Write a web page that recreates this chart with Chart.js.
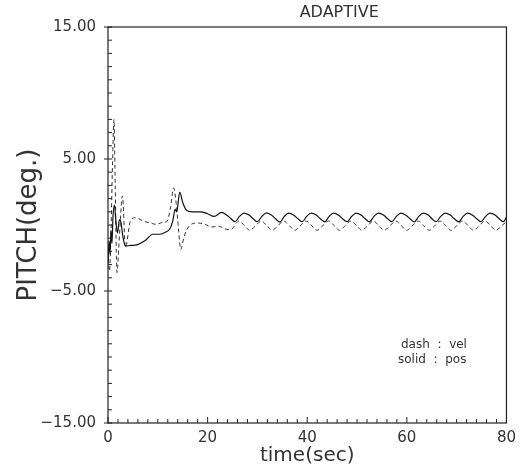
<!DOCTYPE html>
<html>
<head>
<meta charset="utf-8">
<script src="https://cdn.jsdelivr.net/npm/chart.js@4.4.0/dist/chart.umd.min.js"></script>
<style>
  html, body { margin: 0; padding: 0; background: #fff; }
</style>
</head>
<body>
<canvas id="pitch-chart" width="522" height="470"></canvas>
<script>
// values
const xTicks = [0, 20, 40, 60, 80];
const yTicks = [-15, -5, 5, 15];

// solid : pos
const posTime = [0, 0.2, 0.4, 0.6, 0.8, 1.0, 1.3, 1.6, 1.9, 2.3, 2.6, 3.0, 3.5, 4.5, 5.8, 7.4, 9.0, 10.4, 11.5, 12.4,
  13.0, 13.5, 13.8, 14.4, 15.0, 15.8, 17.0, 18.6, 20.0, 21.3, 22.8, 24.2,
  25.5, 26.4, 27.3, 28.3, 29.2, 30.0, 30.9, 31.8, 32.8, 33.7, 34.5, 35.4, 36.3, 37.3, 38.2,
  39.0, 39.9, 40.8, 41.8, 42.7, 43.5, 44.4, 45.3, 46.3, 47.2, 48.0, 48.9, 49.8, 50.8, 51.7,
  52.5, 53.4, 54.3, 55.3, 56.2, 57.0, 57.9, 58.8, 59.8, 60.7, 61.5, 62.4, 63.3, 64.3, 65.1,
  65.9, 66.8, 67.7, 68.7, 69.6, 70.4, 71.3, 72.2, 73.2, 74.1, 74.9, 75.8, 76.7, 77.7, 78.6, 79.4, 80.0];
const posPitch = [-3.0, -1.2, -2.2, -0.4, -1.4, 0.6, 1.5, 0.2, -0.6, 0.4, 0.2, -0.9, -1.6, -1.55, -1.5, -1.2, -0.7, -0.7, -0.55, -0.3,
  0.3, 1.2, 1.0, 2.5, 1.7, 1.1, 1.0, 1.0, 0.85, 0.65, 0.95, 0.65,
  0.25, 0.65, 0.9, 0.75, 0.45, 0.25, 0.65, 0.92, 0.75, 0.45, 0.22, 0.65, 0.9, 0.74, 0.45,
  0.25, 0.66, 0.9, 0.75, 0.45, 0.24, 0.65, 0.9, 0.74, 0.44, 0.25, 0.64, 0.9, 0.75, 0.45,
  0.24, 0.65, 0.9, 0.75, 0.45, 0.25, 0.65, 0.9, 0.74, 0.45, 0.24, 0.65, 0.9, 0.75, 0.45,
  0.25, 0.65, 0.9, 0.75, 0.45, 0.24, 0.65, 0.9, 0.74, 0.45, 0.25, 0.65, 0.9, 0.75, 0.45, 0.25, 0.6];

// dash : vel
const velTime = [0, 0.3, 0.6, 0.9, 1.2, 1.45, 1.8, 2.3, 2.9, 3.5, 4.5, 5.5, 7.1, 8.5, 9.7, 11.0, 11.8, 12.5, 13.2, 13.7,
  14.2, 14.6, 15.3, 16.5, 18.0, 19.5, 20.8, 22.3, 23.5, 24.6,
  26.3, 27.4, 28.5, 29.5, 30.8, 31.9, 33.0, 34.0, 35.3, 36.4, 37.5, 38.5, 39.8, 40.9, 42.0, 43.0,
  44.3, 45.4, 46.5, 47.5, 48.8, 49.9, 51.0, 52.0, 53.3, 54.4, 55.5, 56.5, 57.8, 58.9, 60.0, 61.0,
  62.3, 63.4, 64.5, 65.5, 66.7, 67.8, 68.9, 69.9, 71.2, 72.3, 73.4, 74.4, 75.7, 76.8, 77.9, 78.9, 80.0];
const velPitch = [-2.0, -3.5, -0.5, 4.5, 8.0, 3.0, -3.6, -0.8, 2.2, -1.7, 0.3, 0.55, 0.3, 0.15, 0.05, 0.2, 0.25, 1.2, 2.8, 1.6,
  -0.5, -1.85, -0.85, 0.0, 0.15, 0.05, -0.15, -0.1, -0.3, -0.35,
  0.3, -0.05, -0.4, -0.1, 0.3, -0.05, -0.4, -0.1, 0.3, -0.05, -0.4, -0.1, 0.3, -0.05, -0.4, -0.1,
  0.3, -0.05, -0.4, -0.1, 0.3, -0.05, -0.4, -0.1, 0.3, -0.05, -0.4, -0.1, 0.3, -0.05, -0.4, -0.1,
  0.3, -0.05, -0.4, -0.1, 0.3, -0.05, -0.4, -0.1, 0.3, -0.05, -0.4, -0.1, 0.3, -0.05, -0.4, -0.1, 0.25];

const fontFamily = '"DejaVu Sans", sans-serif';
const inkColor = '#333';

function fmtY(v) {
  return (v < 0 ? '\u2212' : '') + Math.abs(v).toFixed(2);
}

// frame, inward tick marks, title and the little legend text
const decorPlugin = {
  id: 'decor',
  afterDraw(chart) {
    const { ctx, chartArea: area, scales } = chart;
    ctx.save();
    ctx.strokeStyle = '#222';
    ctx.lineWidth = 1.2;
    ctx.strokeRect(area.left, area.top, area.right - area.left, area.bottom - area.top);

    ctx.lineWidth = 1;
    ctx.beginPath();
    for (let v = -15; v <= 15; v++) {
      const y = scales.y.getPixelForValue(v);
      const major = yTicks.includes(v);
      ctx.moveTo(area.left - (major ? 4 : 0), y);
      ctx.lineTo(area.left + 4, y);
    }
    for (let t = 0; t <= 80; t += 2) {
      const x = scales.x.getPixelForValue(t);
      ctx.moveTo(x, area.bottom);
      ctx.lineTo(x, area.bottom - (xTicks.includes(t) ? 6 : 4));
    }
    ctx.stroke();

    ctx.fillStyle = inkColor;
    ctx.font = '16px ' + fontFamily;
    ctx.textAlign = 'center';
    ctx.textBaseline = 'middle';
    ctx.fillText('ADAPTIVE', (area.left + area.right) / 2 + 32, 13);

    ctx.font = '12px ' + fontFamily;
    ctx.textAlign = 'left';
    ctx.fillText('dash  :  vel', area.left + 293, 345);
    ctx.fillText('solid  :  pos', area.left + 290, 360);
    ctx.restore();
  }
};

const chart = new Chart(document.getElementById('pitch-chart'), {
  type: 'line',
  data: {
    datasets: [
      {
        label: 'pos',
        data: posTime.map((t, i) => ({ x: t, y: posPitch[i] })),
        borderColor: '#111',
        borderWidth: 1.2,
        pointRadius: 0,
        cubicInterpolationMode: 'monotone',
        fill: false
      },
      {
        label: 'vel',
        data: velTime.map((t, i) => ({ x: t, y: velPitch[i] })),
        borderColor: '#333',
        borderWidth: 1,
        borderDash: [4, 3],
        pointRadius: 0,
        cubicInterpolationMode: 'monotone',
        fill: false
      }
    ]
  },
  options: {
    responsive: false,
    animation: false,
    layout: { padding: { left: 0, top: 27, right: 8, bottom: 0 } },
    plugins: {
      legend: { display: false },
      title: { display: false },
      tooltip: { enabled: false }
    },
    scales: {
      x: {
        type: 'linear',
        min: 0,
        max: 80,
        afterBuildTicks: axis => { axis.ticks = xTicks.map(v => ({ value: v })); },
        afterFit: axis => { axis.height = 47; },
        grid: { display: false, drawTicks: false },
        border: { display: false },
        ticks: {
          padding: 6,
          maxRotation: 0,
          color: inkColor,
          font: { family: fontFamily, size: 15 }
        },
        title: {
          display: true,
          text: 'time(sec)',
          color: inkColor,
          font: { family: fontFamily, size: 20 },
          padding: { top: 0, bottom: 2 }
        }
      },
      y: {
        type: 'linear',
        min: -15,
        max: 15,
        afterBuildTicks: axis => { axis.ticks = yTicks.map(v => ({ value: v })); },
        afterFit: axis => { axis.width = 108; },
        grid: { display: false, drawTicks: false },
        border: { display: false },
        ticks: {
          padding: 12,
          color: inkColor,
          font: { family: fontFamily, size: 15 },
          callback: v => fmtY(v)
        },
        title: {
          display: true,
          text: 'PITCH(deg.)',
          color: inkColor,
          font: { family: fontFamily, size: 26 },
          padding: { top: 14, bottom: 0 }
        }
      }
    }
  },
  plugins: [decorPlugin]
});
</script>
</body>
</html>
